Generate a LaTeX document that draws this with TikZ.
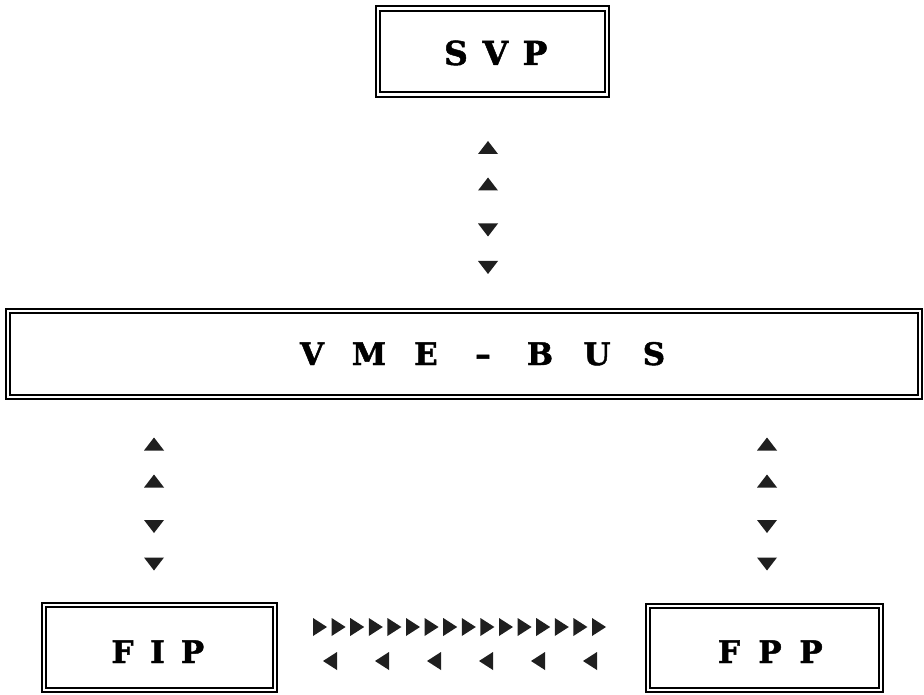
\documentclass[tikz,border=0pt]{standalone}
\usepackage{fontspec}
\setmainfont{DejaVu Serif}[BoldFeatures={FakeBold=1.5}]
\usetikzlibrary{decorations.markings}
\newcommand\trifwd[2]{\fill[tri] (#1/2,0) -- (-#1/2,#2/2) -- (-#1/2,-#2/2) -- cycle;}
\newcommand\tribwd[2]{\fill[tri] (-#1/2,0) -- (#1/2,#2/2) -- (#1/2,-#2/2) -- cycle;}
\tikzset{
  frame/.style={draw, line width=2pt, double, double distance=2.6pt, inner sep=0pt, outer sep=0pt},
  lbl/.style={font=\fontsize{31}{36}\selectfont\bfseries, anchor=base, inner sep=0pt},
  tri/.style={fill=black!88},
  vlink/.style={decorate, decoration={markings,
      mark=at position 53pt with {\tribwd{13}{20}},
      mark=at position 89.5pt with {\tribwd{13}{20}},
      mark=at position 135.5pt with {\trifwd{13}{20}},
      mark=at position 173pt with {\trifwd{13}{20}}}},
  vlinkb/.style={decorate, decoration={markings,
      mark=at position 47pt with {\tribwd{13}{20}},
      mark=at position 84pt with {\tribwd{13}{20}},
      mark=at position 129.5pt with {\trifwd{13}{20}},
      mark=at position 167pt with {\trifwd{13}{20}}}},
  fwdrow/.style={decorate, decoration={markings,
      mark=between positions 45pt and 325pt step 18.6pt with {\trifwd{14}{18}}}},
  bwdrow/.style={decorate, decoration={markings,
      mark=between positions 55pt and 316pt step 52pt with {\tribwd{14}{18}}}},
}
\begin{document}
\begin{tikzpicture}[x=1pt, y=-1pt]
\useasboundingbox[fill=white] (0,0) rectangle (924,695);
% boxes
\node[frame, minimum width=229pt, minimum height=86pt] (svp) at (492.5,51.5) {};
\node[frame, minimum width=912pt, minimum height=86pt] (vme) at (464,354) {};
\node[frame, minimum width=231pt, minimum height=85pt] (fip) at (159.5,647.5) {};
\node[frame, minimum width=233pt, minimum height=84pt] (fpp) at (764.5,648) {};
% labels
\node[lbl, font=\fontsize{33}{38}\selectfont\bfseries] (svpt) at (495.5,65) {\makebox[39.5pt]{S}\makebox[39.5pt]{V}\makebox[39.5pt]{P}};
\node[lbl] (vmet) at (483,365) {\makebox[57pt]{V}\makebox[57pt]{M}\makebox[57pt]{E}\makebox[57pt]{–}\makebox[57pt]{B}\makebox[57pt]{U}\makebox[57pt]{S}};
\node[lbl] (fipt) at (157.5,663) {\makebox[35pt]{F}\makebox[35pt]{I}\makebox[35pt]{P}};
\node[lbl] (fppt) at (770,663) {\makebox[41pt]{F}\makebox[41pt]{P}\makebox[41pt]{P}};
% links
\path[vlink] ([xshift=-4.5pt]svp.south) -- ([xshift=-4.5pt]svp.south |- vme.north);
\path[vlinkb] ([xshift=-5.5pt]fip.north |- vme.south) -- ([xshift=-5.5pt]fip.north);
\path[vlinkb] ([xshift=2.5pt]fpp.north |- vme.south) -- ([xshift=2.5pt]fpp.north);
\path[fwdrow] ([yshift=20.5pt]fip.east) -- ([yshift=20.5pt]fip.east -| fpp.west);
\path[bwdrow] ([yshift=-13.5pt]fip.east) -- ([yshift=-13.5pt]fip.east -| fpp.west);
\end{tikzpicture}
\end{document}
